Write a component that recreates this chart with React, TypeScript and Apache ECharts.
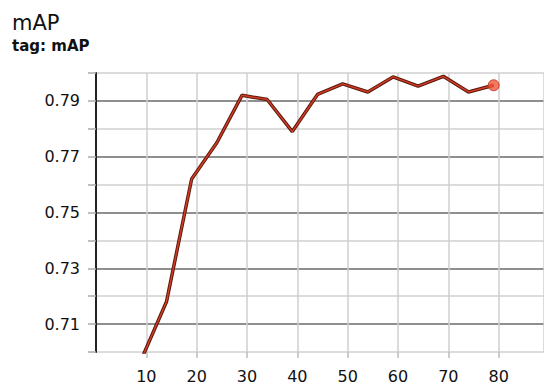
import React, { useEffect, useRef } from "react";
import * as echarts from "echarts";

const steps = [9, 14, 19, 24, 29, 34, 39, 44, 49, 54, 59, 64, 69, 74, 79];
const mapValues = [0.6973, 0.718, 0.762, 0.775, 0.792, 0.7905, 0.779, 0.7923, 0.7961, 0.7932, 0.7986, 0.7953, 0.7988, 0.7932, 0.7956];
const titleText = "mAP";
const tagText = "tag: mAP";

export default function App() {
  const ref = useRef<HTMLDivElement>(null);
  useEffect(() => {
    if (!ref.current) return;
    const chart = echarts.init(ref.current, null, { renderer: "svg" });
    const data = steps.map((s, i) => [s, mapValues[i]]);
    const last = data[data.length - 1];
    chart.setOption({
      animation: false,
      textStyle: { fontFamily: "DejaVu Sans" },
      graphic: [
        { type: "text", left: 12, top: 12, style: { text: titleText, fontSize: 21, fill: "#111", fontFamily: "DejaVu Sans" } },
        { type: "text", left: 12, top: 38, style: { text: tagText, fontSize: 15, fontWeight: "bold", fill: "#111", fontFamily: "DejaVu Sans" } },
      ],
      grid: { left: 96, right: 0, top: 73, bottom: 33, containLabel: false },
      xAxis: {
        type: "value",
        min: 0,
        max: 89,
        interval: 10,
        axisLine: { show: false },
        axisTick: { show: true, length: 6, lineStyle: { color: "#bdbdbd", width: 1.5 } },
        axisLabel: { showMinLabel: false, showMaxLabel: false, fontSize: 16, color: "#111", margin: 16, fontFamily: "DejaVu Sans" },
        splitLine: { show: true, lineStyle: { color: "#cfcfcf", width: 1.5 } },
      },
      yAxis: {
        type: "value",
        min: 0.7,
        max: 0.8,
        interval: 0.01,
        axisLine: { show: true, lineStyle: { color: "#222", width: 2 } },
        axisTick: { show: true, length: 8, lineStyle: { color: "#aaa", width: 1.5 } },
        axisLabel: {
          fontSize: 16,
          color: "#111",
          margin: 16,
          fontFamily: "DejaVu Sans",
          formatter: (v: number) => (Math.round(v * 100) % 2 === 1 ? v.toFixed(2) : ""),
        },
        splitLine: { show: true, lineStyle: { color: ["#d0d0d0", "#6a6a6a"], width: 1.5 } },
      },
      series: [
        {
          type: "line",
          data,
          showSymbol: false,
          symbol: "none",
          clip: true,
          lineStyle: { color: "#5a1a10", width: 3.5 },
          z: 2,
        },
        {
          type: "line",
          data,
          showSymbol: false,
          symbol: "none",
          clip: true,
          lineStyle: { color: "#d23c22", width: 1.5 },
          z: 3,
        },
        {
          type: "scatter",
          data: [last],
          symbolSize: 11,
          itemStyle: { color: "#f0583a", borderColor: "#b8321e", borderWidth: 1 },
          z: 4,
        },
      ],
    });
    return () => chart.dispose();
  }, []);
  return <div ref={ref} style={{ width: 544, height: 385, position: "absolute", left: 0, top: 0 }} />;
}
